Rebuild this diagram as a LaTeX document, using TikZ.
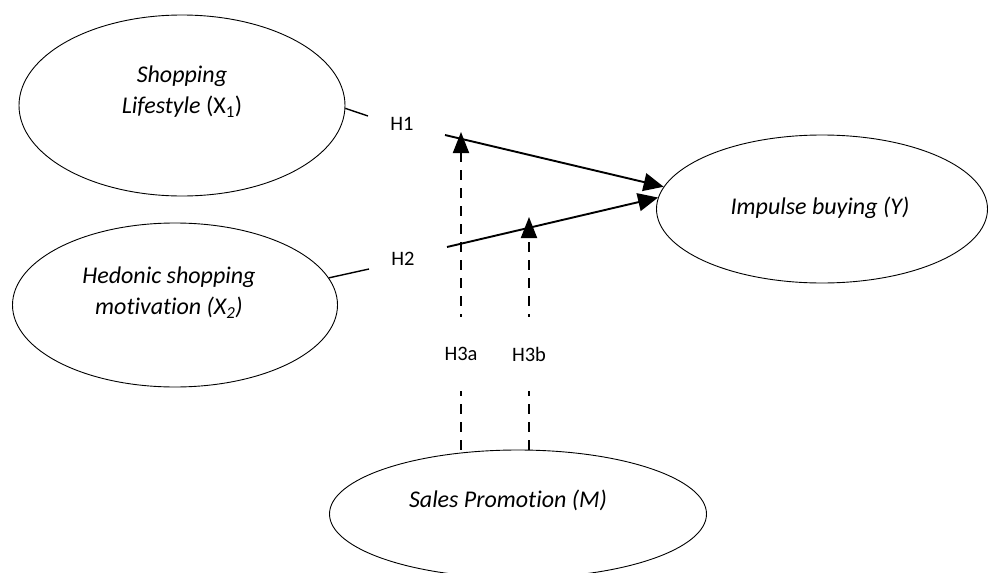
\documentclass[tikz,border=0pt]{standalone}
\usepackage{fontspec}
\setmainfont{Carlito}[Ligatures=NoCommon]
\usetikzlibrary{shapes.geometric,arrows.meta}
\begin{document}
\begin{tikzpicture}[x=1pt,y=-1pt,
 oval/.style={draw,ellipse,line width=0.9pt,inner sep=0pt},
 txt/.style={font=\fontsize{24}{31}\selectfont\itshape,align=center,inner sep=0pt},
 hlab/.style={font=\fontsize{20.5}{23}\selectfont,inner sep=0pt},
 stubline/.style={line width=1.4pt},
 mainarrow/.style={line width=1.9pt,-{Triangle[length=20pt,width=18pt]}},
 modarrow/.style={line width=1.9pt,dash pattern=on 10pt off 8pt,-{Triangle[length=21pt,width=16pt]}}]
\clip (0,0) rectangle (989,573);
\useasboundingbox (0,0) rectangle (989,573);
% ellipses
\node[oval,minimum width=326pt,minimum height=181pt] (x1) at (182,105.5) {};
\node[oval,minimum width=325pt,minimum height=164pt] (x2) at (175,305) {};
\node[oval,minimum width=331pt,minimum height=148pt] (y) at (822,209) {};
\node[oval,minimum width=377pt,minimum height=128pt] (m) at (518,514) {};
% texts
\node[txt] (x1t) at (182,92) {Shopping\\Lifestyle \textup{(X\textsubscript{1})}};
\node[txt] (x2t) at (169,293) {Hedonic shopping\\motivation (X\textsubscript{2})};
\node[txt] (yt) at (820,208) {Impulse buying (Y)};
\node[txt] (mt) at (508,500) {Sales Promotion (M)};
% labels
\node[hlab] (h1) at (402,124) {H1};
\node[hlab] (h2) at (403,259) {H2};
% coordinates
\coordinate (a1) at (368,116);
\coordinate (b1) at (445,135);
\coordinate (a2) at (369,269);
\coordinate (b2) at (447,247);
\coordinate (t1) at (461,132);
\coordinate (t2) at (529,217);
% connectors
\draw[stubline] (x1.-1) -- (a1);
\draw[mainarrow] (b1) -- (y.172);
\draw[stubline] (x2.10) -- (a2);
\draw[mainarrow] (b2) -- (y.176);
\draw[modarrow] (m.north -| t1) -- node[hlab,fill=white,pos=0.3,minimum height=74pt,inner xsep=2pt] (h3a) {H3a} (t1);
\draw[modarrow] (m.north -| t2) -- node[hlab,fill=white,pos=0.41,minimum height=74pt,inner xsep=2pt] (h3b) {H3b} (t2);
\end{tikzpicture}
\end{document}
